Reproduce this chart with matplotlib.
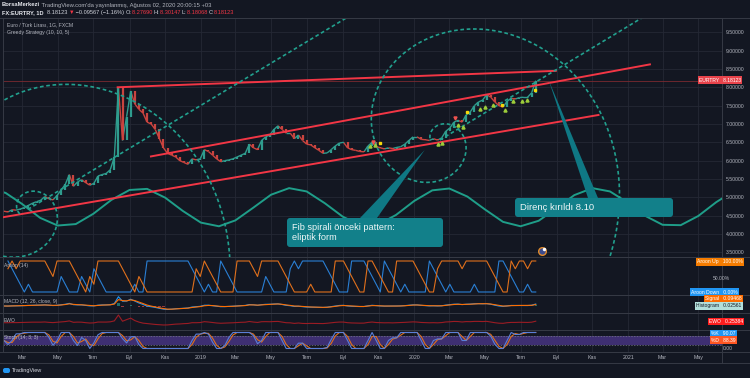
import numpy as np
import pandas as pd
import matplotlib
matplotlib.use('Agg')
import matplotlib.pyplot as plt
import matplotlib.dates as mdates
from matplotlib.patches import FancyBboxPatch, Polygon
from matplotlib.lines import Line2D
from matplotlib.collections import LineCollection
from matplotlib.transforms import IdentityTransform

W, H = 750, 378
BG = '#131722'
GRID = '#242835'
EDGE = '#363a45'
TXT = '#b2b5be'
TEAL = '#22a08e'
RED = '#f23645'
PHI = (1 + 5 ** 0.5) / 2

# ---- data ----
# weekly closes of EUR/TRY, first week 2018-01-29
closes = [4.62, 4.60, 4.66, 4.65, 4.68, 4.72, 4.78, 4.84, 4.88, 4.92, 5.02, 4.96, 4.93,
          5.05, 5.20, 5.35, 5.62, 5.30, 5.42, 5.48, 5.40, 5.33, 5.38, 5.58, 5.62, 5.65,
          5.75, 6.10, 7.98, 6.55, 7.20, 7.90, 7.55, 7.40, 7.30, 7.05, 7.00, 6.85, 6.60,
          6.35, 6.20, 6.15, 6.10, 6.00, 5.95, 5.90, 6.05, 6.02, 6.05,
          6.30, 6.25, 6.15, 6.05, 5.97, 6.00, 6.02, 6.05, 6.10, 6.15, 6.20, 6.45, 6.35,
          6.30, 6.55, 6.65, 6.70, 6.85, 6.95, 6.85, 6.75, 6.75, 6.60, 6.70, 6.55, 6.45,
          6.43, 6.35, 6.28, 6.20, 6.21, 6.30, 6.40, 6.48, 6.50, 6.35, 6.30, 6.28, 6.25,
          6.24, 6.40, 6.50, 6.38, 6.35, 6.32, 6.35, 6.33, 6.36, 6.38, 6.45, 6.55, 6.65,
          6.65, 6.58, 6.57, 6.55, 6.60, 6.56, 6.62, 6.80, 6.89, 7.05, 7.10, 7.05, 7.25,
          7.33, 7.50, 7.60, 7.65, 7.80, 7.73, 7.60, 7.50, 7.46, 7.62, 7.70, 7.68, 7.72,
          7.73, 7.73, 7.85, 8.18123]
first_week = '2018-01-29'

# sine-wave indicator, value on the 1st of each month from 2018-01
sine_vals = [5.25, 5.12, 4.82, 4.44, 4.23, 4.27, 4.55, 4.93, 5.20, 5.23, 4.99, 4.63,
             4.31, 4.21, 4.37, 4.72, 5.07, 5.25, 5.16, 4.84, 4.47, 4.24, 4.26, 4.52,
             4.90, 5.19, 5.24, 5.02, 4.67, 4.33, 4.21, 4.36, 4.71, 5.06, 5.25, 5.16,
             4.85, 4.48, 4.25, 4.24, 4.49, 4.87, 5.17]

tick_dates = ['2018-03-01', '2018-05-01', '2018-07-01', '2018-09-01', '2018-11-01', '2019-01-01',
              '2019-03-01', '2019-05-01', '2019-07-01', '2019-09-01', '2019-11-01', '2020-01-01',
              '2020-03-01', '2020-05-01', '2020-07-01', '2020-09-01', '2020-11-01', '2021-01-01',
              '2021-03-01', '2021-05-01']
tick_labels = ['Mar', 'May', 'Tem', 'Eyl', 'Kas', '2019', 'Mar', 'May', 'Tem', 'Eyl', 'Kas',
               '2020', 'Mar', 'May', 'Tem', 'Eyl', 'Kas', '2021', 'Mar', 'May']
price_ticks = [3.5, 4.0, 4.5, 5.0, 5.5, 6.0, 6.5, 7.0, 7.5, 8.0, 8.5, 9.0, 9.5]

trend_dates = [['2018-08-10', '2020-09-01'], ['2018-10-06', '2021-02-09'], ['2018-01-27', '2020-11-13']]
trend_prices = [[8.00, 8.45], [6.11, 8.63], [4.455, 7.25]]

spiral_centers = [('2018-03-11', 4.67), ('2020-02-14', 6.563)]
spiral_through = [('2019-03-20', 8.254), ('2021-01-16', 9.81)]

buy_dates = ['2019-10-17', '2019-10-26', '2020-02-10', '2020-02-18', '2020-03-16', '2020-03-24',
             '2020-04-22', '2020-05-01', '2020-05-15', '2020-06-04', '2020-06-18', '2020-07-03',
             '2020-07-12']
buy_prices = [6.40, 6.43, 6.45, 6.48, 6.97, 6.92, 7.41, 7.46, 7.52, 7.38, 7.63, 7.63, 7.65]
flag_dates = ['2019-11-03', '2020-03-31', '2020-05-30', '2020-07-25']
flag_prices = [6.48, 7.33, 7.52, 7.93]
sell_dates = ['2020-03-11', '2019-10-22']
sell_prices = [7.16, 6.52]

callout_tips = [('2020-01-19', 6.29), ('2020-08-18', 8.20)]
callout_texts = ['Fib spirali önceki pattern:\neliptik form', 'Direnç kırıldı 8.10']

last_price = 8.18123
ohlc = ['8.27690', '8.30147', '8.18068', '8.18123']

# ---- figure ----
plt.rcParams['font.family'] = ['Liberation Sans', 'DejaVu Sans']
fig = plt.figure(figsize=(W / 100, H / 100), dpi=100, facecolor=BG)
ID = IdentityTransform()

day0 = mdates.datestr2num('2018-01-01')
X0, X1 = day0 + 25.66, day0 + 1255.8
tick_x = [mdates.datestr2num(d) for d in tick_dates]


def pane(y0, y1):
    ax = fig.add_axes([2.5 / W, 1 - y1 / H, 719 / W, (y1 - y0) / H])
    ax.set_facecolor(BG)
    for s in ax.spines.values():
        s.set_color(EDGE)
        s.set_linewidth(0.7)
    ax.set_xlim(X0, X1)
    ax.set_xticks(tick_x)
    ax.set_yticks([])
    ax.tick_params(length=0, labelbottom=False, labelleft=False, colors=TXT)
    ax.grid(True, axis='x', color=GRID, lw=0.6)
    ax.set_axisbelow(True)
    return ax


def ftext(x, y, s, **kw):
    kw.setdefault('fontsize', 3.6)
    kw.setdefault('color', TXT)
    kw.setdefault('va', 'center')
    return fig.text(x / W, 1 - y / H, s, **kw)


def tag(x, y, s, fc, tc='white'):
    ftext(x, y, s, color=tc, bbox=dict(boxstyle='square,pad=0.25', fc=fc, ec='none'))


ax = pane(18.3, 257)
ax.set_ylim(3.372, 9.882)
ax.set_yticks(price_ticks)
ax.set_yticklabels(['%.5f' % p for p in price_ticks])
ax.yaxis.tick_right()
ax.tick_params(axis='y', labelright=True, labelsize=3.7, pad=3, labelcolor=TXT)
ax.grid(True, axis='y', color=GRID, lw=0.6)
PX_DAY = 719 / (X1 - X0)
PX_P = (257 - 18.3) / (9.882 - 3.372)

x = mdates.date2num(pd.date_range(first_week, periods=len(closes), freq='7D').to_pydatetime())
c = np.array(closes)
prev = np.r_[c[0], c[:-1]]
cols = np.where(c >= prev, '#2f9c8e', '#c9443f')
ax.axhline(last_price, color='#7a2a30', lw=0.6, zorder=1)
segs = np.stack([np.c_[x[:-1], c[:-1]], np.c_[x[1:], c[1:]]], axis=1)
ax.add_collection(LineCollection(segs, colors=cols[1:], lw=1.0, zorder=3))
ax.vlines(x, prev, c, colors=cols, lw=1.6, zorder=3)

sx = mdates.date2num(pd.date_range('2018-01-01', periods=len(sine_vals), freq='MS').to_pydatetime())
ax.plot(sx, sine_vals, color='#1f9e89', lw=1.4, zorder=2)

for d, p in zip(trend_dates, trend_prices):
    ax.plot([mdates.datestr2num(v) for v in d], p, color=RED, lw=1.4, solid_capstyle='butt', zorder=4)

dash = dict(color=TEAL, lw=1.2, ls=(0, (2.2, 1.6)), zorder=4)
for (cd, cp), (td, tp), r_turn, th0, th1 in zip(spiral_centers, spiral_through,
                                                [119.4, 106], [-120, -80], [480, 500]):
    cx = mdates.datestr2num(cd)
    th = np.radians(np.linspace(th0, th1, 800))
    r = r_turn * PHI ** ((th - 2 * np.pi) / (np.pi / 2))
    ax.plot(cx + r * np.sin(th) / PX_DAY, cp + r * np.cos(th) / PX_P, **dash)
    tx = mdates.datestr2num(td)
    ax.plot([cx, cx + 3 * (tx - cx)], [cp, cp + 3 * (tp - cp)], **dash)

ax.plot([mdates.datestr2num(d) for d in buy_dates], buy_prices, '^', color='#9ccc3a', ms=2.2, zorder=5)
ax.plot([mdates.datestr2num(d) for d in flag_dates], flag_prices, 's', color='#f5d90a', ms=1.8, zorder=5)
ax.plot([mdates.datestr2num(d) for d in sell_dates], sell_prices, 'v', color='#ef5350', ms=2.2, zorder=5)

# emoji badge at the bottom of the price pane
ax.plot(mdates.datestr2num('2020-08-06'), 3.53, 'o', ms=5.5, mfc='#3b4a8c', mec='#e08a2a', mew=1.0, zorder=5)
ax.plot(mdates.datestr2num('2020-08-10'), 3.60, 'o', ms=2.5, mfc='white', mec='none', zorder=6)

# callouts
geo = [((360, 377, 218), (287, 218, 443, 247), (292, 232.5), 6.6),
       ((588, 598, 198), (515, 198, 673, 217), (520, 207.5), 6.8)]
for (td, tp), text, (base, box, tpos, fs) in zip(callout_tips, callout_texts, geo):
    px, py = ax.transData.transform((mdates.datestr2num(td), tp))
    fig.add_artist(Polygon([(px, py), (base[0], H - base[2]), (base[1], H - base[2])],
                           closed=True, fc='#0f7884', ec='none', transform=ID, zorder=6))
    x0, y0, x1, y1 = box
    fig.add_artist(FancyBboxPatch((x0, H - y1), x1 - x0, y1 - y0, boxstyle='round,pad=0,rounding_size=3',
                                  fc='#12808a', ec='none', transform=ID, zorder=7))
    t = ftext(tpos[0], tpos[1], text, fontsize=fs, color='#eef7f7', linespacing=1.0)
    t.set_zorder(8)

# ---- indicator panes ----
cs = pd.Series(c)
n = 4
aroon_up = cs.rolling(n + 1, min_periods=2).apply(lambda w: 100 * (n - len(w) + 1 + np.argmax(w)) / n, raw=True)
aroon_dn = cs.rolling(n + 1, min_periods=2).apply(lambda w: 100 * (n - len(w) + 1 + np.argmin(w)) / n, raw=True)
ax_a = pane(257, 295)
ax_a.set_ylim(-9.7, 112.9)
ax_a.plot(x, aroon_dn, color='#2a7fd4', lw=0.8)
ax_a.plot(x, aroon_up, color='#e0701c', lw=0.8)

macd = cs.ewm(span=2.7, adjust=False).mean() - cs.ewm(span=5.7, adjust=False).mean()
signal = macd.ewm(span=2.3, adjust=False).mean()
hist = macd - signal
ax_m = pane(295, 313)
top = macd.max() * 11 / 9.3
ax_m.set_ylim(-top * 7 / 11, top)
ax_m.bar(x, hist, width=4, color=np.where(hist >= 0, '#26a69a', '#ef5350'), alpha=0.6)
ax_m.plot(x, macd, color='#2196f3', lw=0.8)
ax_m.plot(x, signal, color='#ff6d00', lw=0.8)

ewo = cs - cs.rolling(7, min_periods=1).mean()
ax_e = pane(313, 330)
top = ewo.max() * 9.7 / 7.7
ax_e.set_ylim(-top * 7.3 / 9.7, top)
ax_e.plot(x, ewo, color='#9b1c24', lw=0.8)

lo, hi = cs.rolling(3, min_periods=1).min(), cs.rolling(3, min_periods=1).max()
raw = 100 * (cs - lo) / (hi - lo).replace(0, np.nan)
k = raw.fillna(50).rolling(2, min_periods=1).mean()
dd = k.rolling(2, min_periods=1).mean()
ax_s = pane(330, 352)
ax_s.set_ylim(-21.9, 115.6)
ax_s.axhspan(20, 80, color='#3e2f72', lw=0)
for lvl in (20, 80):
    ax_s.axhline(lvl, color='#787b86', lw=0.5, ls=(0, (2, 2)))
ax_s.plot(x, dd, color='#e0701c', lw=0.8)
ax_s.plot(x, k, color='#5a7fd8', lw=0.8)
ax_s.set_xticklabels(tick_labels)
ax_s.tick_params(axis='x', labelbottom=True, labelsize=3.8, pad=2.2, labelcolor=TXT)

# separators
for yy in (18.3, 257, 295, 313, 330, 352, 362.5):
    fig.add_artist(Line2D([0, W], [H - yy, H - yy], color=EDGE, lw=0.7, transform=ID))
fig.add_artist(Line2D([721.5, 721.5], [H - 362.5, H - 18.3], color=EDGE, lw=0.7, transform=ID))

# ---- texts ----
renderer = fig.canvas.get_renderer()


def run(x0, y, parts, size):
    for s, col, wt in parts:
        t = ftext(x0, y, s, color=col, fontsize=size, fontweight=wt)
        x0 += t.get_window_extent(renderer).width


run(2, 5, [('BorsaMerkezi', '#e6e8ee', 'bold'),
           (" TradingView.com'da yayınlanmış, Ağustos 02, 2020 20:00:15 +03", '#b2b5be', 'normal')], 4.2)
run(2, 12.3, [('FX:EURTRY, 1D  ', '#e6e8ee', 'bold'), ('8.18123 ', '#d1d4dc', 'normal'),
              ('▼', RED, 'normal'), (' −0.09567 (−1.16%) ', '#d1d4dc', 'normal'),
              ('O:', '#d1d4dc', 'normal'), (ohlc[0] + ' ', RED, 'normal'),
              ('H:', '#d1d4dc', 'normal'), (ohlc[1] + ' ', RED, 'normal'),
              ('L:', '#d1d4dc', 'normal'), (ohlc[2] + ' ', RED, 'normal'),
              ('C:', '#d1d4dc', 'normal'), (ohlc[3], RED, 'normal')], 4.1)

ftext(7, 25, 'Euro / Türk Lirası, 1G, FXCM', fontsize=3.7)
ftext(7, 32.7, 'Greedy Strategy (10, 10, 5)', fontsize=3.7)
ftext(4, 265, 'Aroon (14)')
ftext(4, 302, 'MACD (12, 26, close, 9)')
ftext(4, 321, 'EWO')
ftext(4, 337, 'Stoch (14, 3, 3)')

tag(699, 80, 'EURTRY   8.18123', '#e8434b')
tag(697, 262, 'Aroon Up   100.00%', '#f57c00')
ftext(713, 278, '50.00%')
tag(691, 292, 'Aroon Down   0.00%', '#2196f3')
tag(705, 298.5, 'Signal   0.09468', '#ff6d00')
tag(696, 306, 'Histogram   0.02561', '#b2dfdb', '#131722')
tag(709, 321.5, 'EWO   0.25384', '#ff1e1e')
tag(711, 333.5, '%K   90.07', '#2196f3')
tag(711, 340, '%D   88.39', '#ff5722')
ftext(723, 348.5, '0.00')

# footer logo
fig.add_artist(FancyBboxPatch((3, H - 373), 7, 5, boxstyle='round,pad=0,rounding_size=2',
                              fc='#2196f3', ec='none', transform=ID))
ftext(12, 370.5, 'TradingView', fontsize=4.0, color='#d1d4dc')

fig.savefig('out.png', dpi=100, facecolor=BG)
